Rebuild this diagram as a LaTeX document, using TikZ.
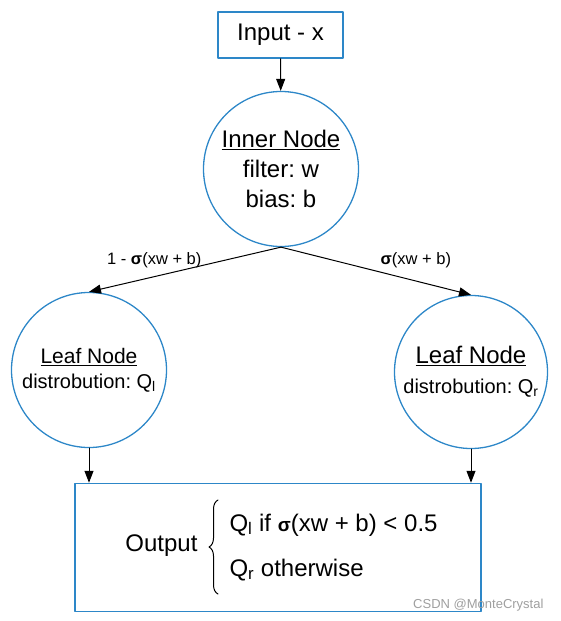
\documentclass[tikz,border=0pt]{standalone}
\usepackage{fontspec}
\setmainfont{Liberation Sans}
\usetikzlibrary{arrows.meta}
\usetikzlibrary{decorations.pathreplacing}
\definecolor{nodeblue}{RGB}{45,135,200}
\frenchspacing

\begin{document}
\begin{tikzpicture}[line cap=round,line join=round,>={Triangle[length=12pt,width=9pt]},x=1pt,y=-1pt,
  box/.style={draw=nodeblue,line width=1.5pt,inner sep=0pt},
  treenode/.style={circle,draw=nodeblue,line width=1.3pt,inner sep=0pt,align=center},
  big/.style={font=\fontsize{24}{30}\selectfont},
  lbl/.style={font=\fontsize{16.5}{20}\selectfont}]
\useasboundingbox (0,0) rectangle (561,621);
\node[box,big,minimum width=125,minimum height=46] (inp) at (280.5,35) {Input - x};
\node[treenode,big,minimum size=155] (inner) at (281,169) {\underline{Inner Node}\\filter: w\\bias: b};
\node[treenode,minimum size=155,font=\fontsize{20}{25}\selectfont] (leafl) at (89,370)
  {{\fontsize{21}{25}\selectfont\underline{Leaf Node}}\\distrobution: Q\textsubscript{l}};
\node[treenode,minimum size=153,font=\fontsize{20}{30}\selectfont] (leafr) at (471,372)
  {{\fontsize{24}{30}\selectfont\underline{Leaf Node}}\\distrobution: Q\textsubscript{r}};
\node[box,minimum width=406,minimum height=128] (out) at (278,547.5) {};
\draw[->,line width=1pt] (inp) -- (inner);
\draw[->,line width=1pt] (inner.south) -- node[lbl,pos=0.66,above=5pt] {1 - \textbf{σ}(xw + b)} (leafl.north);
\draw[->,line width=1pt] (inner.south) -- node[lbl,pos=0.71,above=9pt] {\textbf{σ}(xw + b)} (leafr.north);
\draw[->,line width=1pt] (leafl.south) -- (leafl.south |- out.north);
\draw[->,line width=1pt] (leafr.south) -- (leafr.south |- out.north);
% output cases
\node[big,anchor=east] (outlbl) at (201,546) {Output};
\draw[line width=1pt,decorate,decoration={brace,amplitude=9pt}] (218,594) -- (218,500);
\node[big,anchor=base west] (caseone) at (226,531) {Q\textsubscript{l} if {\fontsize{19}{20}\selectfont\textbf{σ}}(xw + b) < 0.5};
\node[big,anchor=base west] (casetwo) at (226,576) {Q\textsubscript{r} otherwise};
\node[font=\fontsize{13}{15}\selectfont,text=gray!75,anchor=base east] (mark) at (547,608) {CSDN @MonteCrystal};
\end{tikzpicture}
\end{document}
